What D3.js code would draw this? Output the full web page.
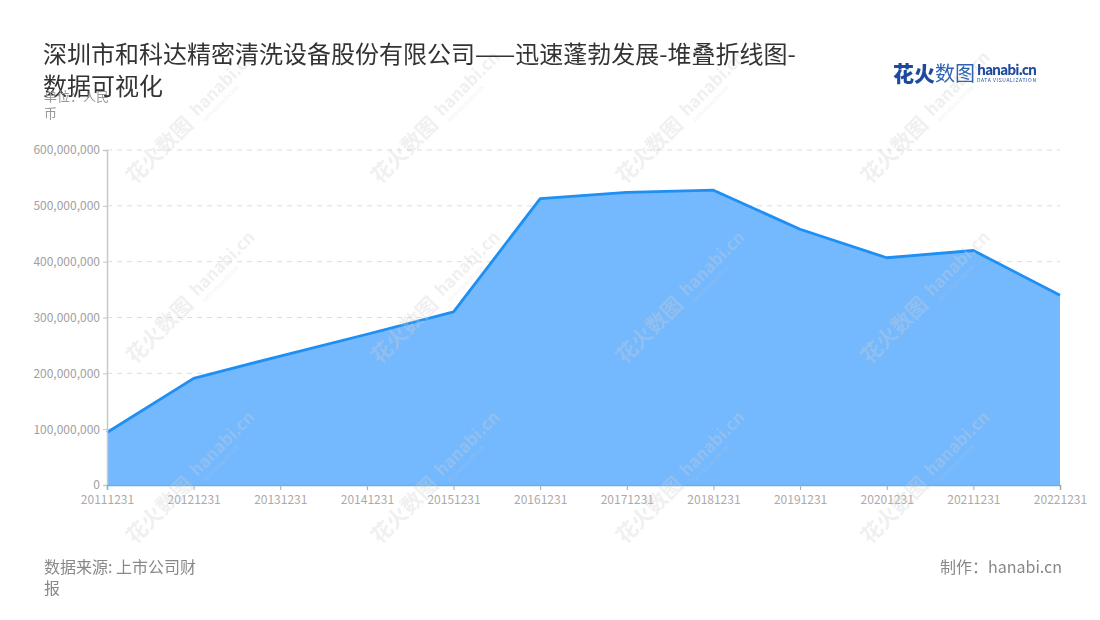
<!DOCTYPE html>
<html><head><meta charset="utf-8">
<script src="https://cdn.jsdelivr.net/npm/d3@7"></script>
<style>
body{margin:0;background:#fff;font-family:"Noto Sans CJK SC","Noto Sans",sans-serif;}
svg text{font-family:"Noto Sans CJK SC","Noto Sans",sans-serif;}
</style></head>
<body><svg id="c" width="1100" height="620"></svg>
<script>
const categories=["20111231","20121231","20131231","20141231","20151231","20161231","20171231","20181231","20191231","20201231","20211231","20221231"];
const values=[94000000,191000000,231000000,270000000,310000000,513000000,524000000,528000000,458000000,407000000,420000000,340000000];
const yTicks=[0,100000000,200000000,300000000,400000000,500000000,600000000];
const titleLines=["深圳市和科达精密清洗设备股份有限公司——迅速蓬勃发展-堆叠折线图-","数据可视化"];

const svg=d3.select("#c");
const m={l:107,r:1060,t:150,b:485};
const x=d3.scalePoint().domain(categories).range([m.l,m.r]);
const y=d3.scaleLinear().domain([0,600000000]).range([m.b,m.t]);

// grid
svg.append("g").selectAll("line").data(yTicks.filter(d=>d>0)).join("line")
 .attr("x1",m.l).attr("x2",m.r).attr("y1",d=>y(d)).attr("y2",d=>y(d))
 .attr("stroke","#dcdcdc").attr("stroke-dasharray","5,5").attr("stroke-width",1);

// area
const area=d3.area().x((d,i)=>x(categories[i])).y0(y(0)).y1(d=>y(d));
svg.append("path").datum(values).attr("d",area).attr("fill","#74b8fe");
const line=d3.line().x((d,i)=>x(categories[i])).y(d=>y(d));
svg.append("path").datum(values).attr("d",line).attr("fill","none").attr("stroke","#1e8ff5").attr("stroke-width",2.8).attr("stroke-linejoin","round");

// y axis
const ya=svg.append("g").attr("transform",`translate(${m.l},0)`)
 .call(d3.axisLeft(y).tickValues(yTicks).tickFormat(d3.format(",")).tickSize(4).tickPadding(3));
ya.select(".domain").attr("stroke","#c8c8c8").attr("stroke-width",1.5);
ya.selectAll(".tick line").attr("stroke","#c8c8c8");
ya.selectAll("text").attr("fill","#a0a0a0").attr("font-size",12);

// x axis
const xa=svg.append("g").attr("transform",`translate(0,${m.b})`)
 .call(d3.axisBottom(x).tickSize(5).tickPadding(5));
xa.select(".domain").attr("stroke","#6aaef0").attr("stroke-width",1.5);
xa.selectAll(".tick line").attr("stroke","#aaa");
xa.selectAll("text").attr("fill","#aaa").attr("font-size",12);

// watermarks
const wm=svg.append("g").attr("opacity",0.32).attr("pointer-events","none");
const rows=[185,365,545], cols=[135,380,625,870];
rows.forEach(ry=>cols.forEach(cx=>{
  const g=wm.append("g").attr("transform",`translate(${cx},${ry}) rotate(-45)`);
  g.append("text").text("花火数图").attr("font-size",21).attr("font-weight",700).attr("fill","#cfcfcf");
  g.append("text").text("hanabi.cn").attr("x",92).attr("y",-4).attr("font-size",17).attr("font-weight",700).attr("fill","#cfcfcf");
  g.append("text").text("DATA VISUALIZATION").attr("x",94).attr("y",5).attr("font-size",5).attr("fill","#cfcfcf");
}));

// title
svg.append("g").selectAll("text").data(titleLines).join("text")
 .attr("x",43).attr("y",(d,i)=>63+i*32).text(d=>d)
 .attr("font-size",24).attr("fill","#333");
svg.append("text").attr("x",44).attr("y",101).text("单位：人民").attr("font-size",13).attr("fill","#999");
svg.append("text").attr("x",44).attr("y",118).text("币").attr("font-size",13).attr("fill","#999");

// logo
svg.append("text").attr("x",893).attr("y",81).text("花火").attr("font-size",21).attr("font-weight",900).attr("fill","#1d4a9e");
svg.append("text").attr("x",935).attr("y",81).text("数图").attr("font-size",20).attr("fill","#2f62b5");
svg.append("text").attr("x",977).attr("y",75).text("hanabi.cn").attr("font-size",14).attr("font-weight",700).attr("fill","#1d4a9e").attr("textLength",60);
svg.append("text").attr("x",977).attr("y",82).text("DATA VISUALIZATION").attr("font-size",5).attr("fill","#1d4a9e").attr("textLength",59);

// footer
svg.append("text").attr("x",44).attr("y",573).text("数据来源: 上市公司财").attr("font-size",16).attr("fill","#888");
svg.append("text").attr("x",44).attr("y",594).text("报").attr("font-size",16).attr("fill","#888");
svg.append("text").attr("x",1062).attr("y",573).attr("text-anchor","end").text("制作：hanabi.cn").attr("font-size",16).attr("fill","#888");
</script></body></html>
